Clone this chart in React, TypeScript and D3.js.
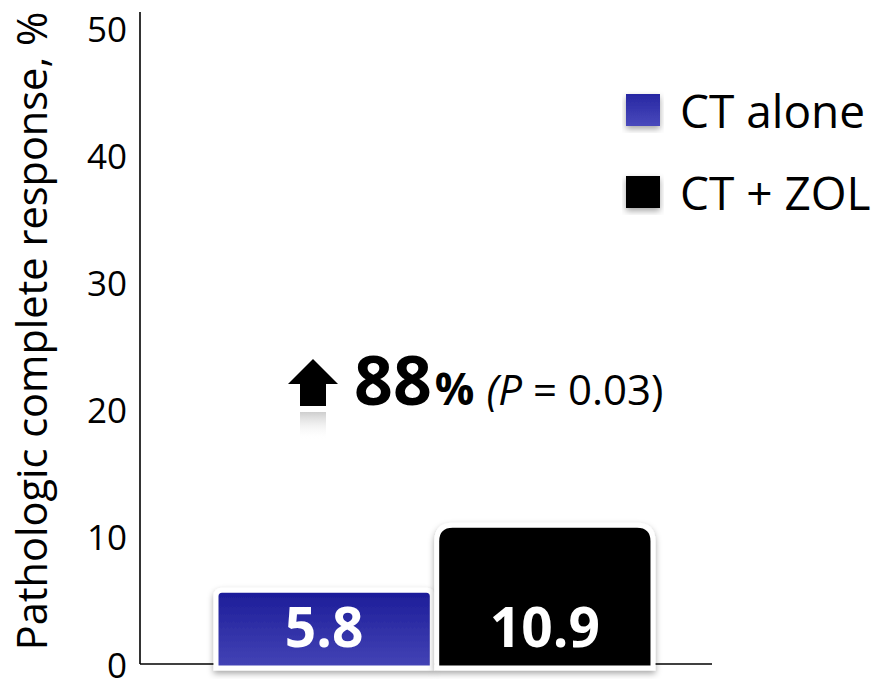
import React from "react";
import * as d3 from "d3";

const categories = ["CT alone", "CT + ZOL"];
const values = [5.8, 10.9];
const valueLabels = ["5.8", "10.9"];
const yTicks = [0, 10, 20, 30, 40, 50];
const colors = ["#2a2aa6", "#000000"];

const W = 871;
const H = 679;
const FONT = "'Open Sans', Lato, sans-serif";

function barPath(x0: number, x1: number, yTop: number, yBottom: number, r: number) {
  const p = d3.path();
  p.moveTo(x0, yBottom);
  p.lineTo(x0, yTop + r);
  p.quadraticCurveTo(x0, yTop, x0 + r, yTop);
  p.lineTo(x1 - r, yTop);
  p.quadraticCurveTo(x1, yTop, x1, yTop + r);
  p.lineTo(x1, yBottom);
  p.closePath();
  return p.toString();
}

export default function App() {
  const y = d3.scaleLinear().domain([0, 50]).range([664, 28]);
  const x = d3.scaleBand<string>().domain(categories).range([216, 653]).paddingInner(0.02);
  const base = y(0);

  return (
    <svg width={W} height={H} style={{ position: "absolute", left: 0, top: 0, background: "#fff" }}>
      <defs>
        <linearGradient id="blueFill" x1="0" y1="0" x2="0" y2="1">
          <stop offset="0%" stopColor="#1c1c98" />
          <stop offset="100%" stopColor="#4444b6" />
        </linearGradient>
        <linearGradient id="legendBlue" x1="0" y1="0" x2="0" y2="1">
          <stop offset="0%" stopColor="#2626a2" />
          <stop offset="100%" stopColor="#4a4abc" />
        </linearGradient>
        <linearGradient id="reflect" x1="0" y1="0" x2="0" y2="1">
          <stop offset="0%" stopColor="#c8c8c8" stopOpacity={0.9} />
          <stop offset="100%" stopColor="#ffffff" stopOpacity={0} />
        </linearGradient>
        <filter id="shadow" x="-10%" y="-10%" width="120%" height="130%">
          <feDropShadow dx="0" dy="3" stdDeviation="3" floodColor="#000" floodOpacity={0.35} />
        </filter>
      </defs>

      {/* axes */}
      <line x1={140} x2={140} y1={12} y2={base} stroke="#000" strokeWidth={1.6} />
      <line x1={140} x2={712} y1={base} y2={base} stroke="#000" strokeWidth={1.6} />
      {yTicks.map((t) => (
        <text
          key={t}
          x={127}
          y={y(t)}
          textAnchor="end"
          dominantBaseline="central"
          fontFamily={FONT}
          fontSize={35}
          fill="#000"
        >
          {t}
        </text>
      ))}
      <text
        transform={`translate(47,331) rotate(-90)`}
        textAnchor="middle"
        fontFamily={FONT}
        fontSize={41.5}
        fill="#000"
      >
        Pathologic complete response, %
      </text>

      {/* bars */}
      {categories.map((c, i) => {
        const x0 = x(c)!;
        const x1 = x0 + x.bandwidth();
        const yt = y(values[i]);
        const r = i === 0 ? 6 : 16;
        return (
          <g key={c}>
            <path
              d={barPath(x0, x1, yt, base + 4, r)}
              fill={i === 0 ? "url(#blueFill)" : colors[i]}
              stroke="#fff"
              strokeWidth={5}
              filter="url(#shadow)"
            />
            <text
              x={(x0 + x1) / 2}
              y={647}
              textAnchor="middle"
              fontFamily={FONT}
              fontWeight="bold"
              fontSize={55}
              fill="#fff"
            >
              {valueLabels[i]}
            </text>
          </g>
        );
      })}

      {/* legend */}
      {categories.map((c, i) => (
        <g key={c} transform={`translate(626,${94 + i * 82})`}>
          <rect
            width={34}
            height={32}
            fill={i === 0 ? "url(#legendBlue)" : colors[i]}
            filter="url(#shadow)"
          />
          <text x={54} y={34} fontFamily={FONT} fontSize={46} fill="#000">
            {c}
          </text>
        </g>
      ))}

      {/* increase annotation */}
      <g>
        <path d="M313,359 L338,384 L326,384 L326,406 L300,406 L300,384 L288,384 Z" fill="#000" />
        <rect x={300} y={412} width={26} height={28} fill="url(#reflect)" />
        <text x={354} y={405} fontFamily={FONT} fill="#000">
          <tspan fontWeight="bold" fontSize={68}>88</tspan>
          <tspan fontWeight="bold" fontSize={44} dx={3}>%</tspan>
          <tspan fontSize={42} fontStyle="italic" dx={12}>(P</tspan>
          <tspan fontSize={42}> = 0.03)</tspan>
        </text>
      </g>
    </svg>
  );
}
